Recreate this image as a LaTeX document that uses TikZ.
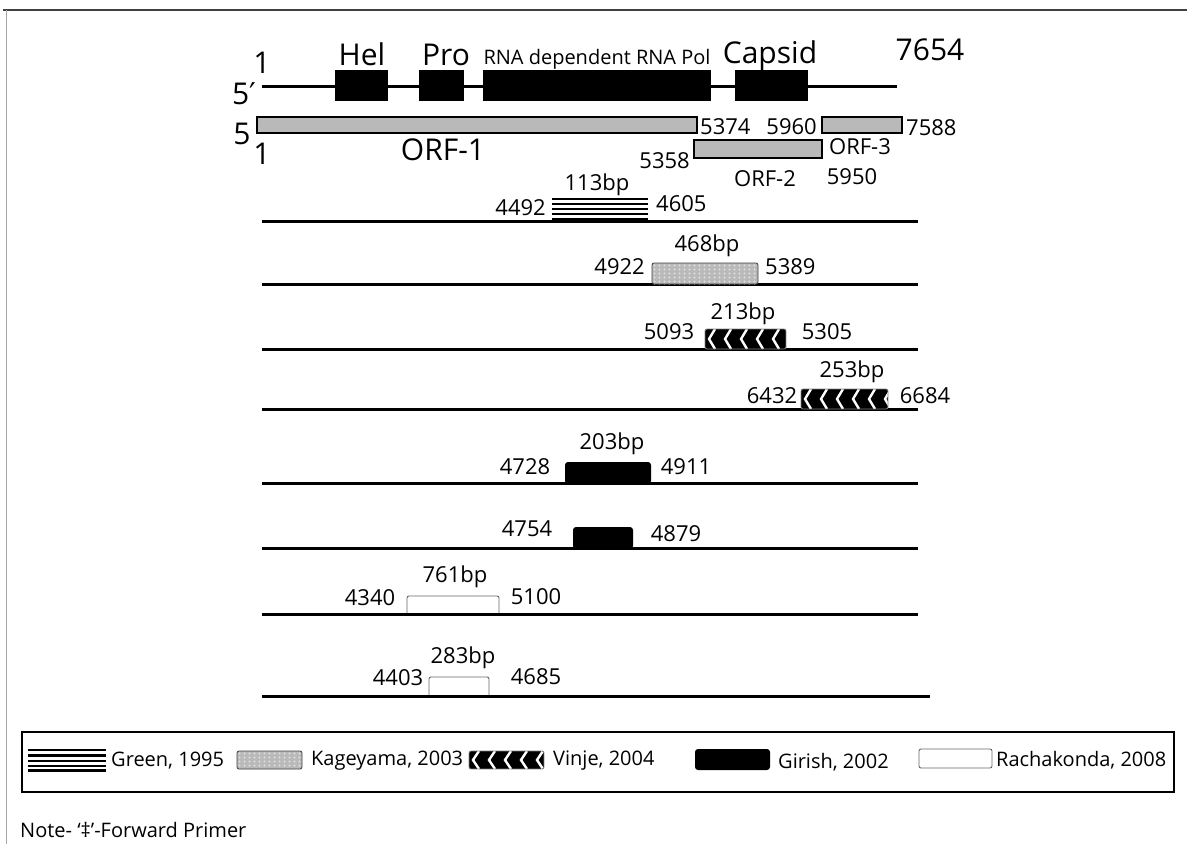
\documentclass[tikz,border=0pt]{standalone}
\usepackage{fontspec}
\setmainfont{Open Sans}
\newfontfamily\dejavu{DejaVu Sans}
\newcommand\kagebox[4]{%
  \fill[gray!55, rounded corners=2pt] (#1,#2) rectangle (#3,#4);
  \begin{scope}
    \clip (#1,#2) rectangle (#3,#4);
    \foreach \i in {0,...,22} \foreach \j in {0,...,5}
      \fill[white!75!gray] ({#1+2.5+\i*5},{#2+2.5+\j*4}) circle (1.2pt);
  \end{scope}
  \draw[black!75, line width=0.8pt, rounded corners=2pt] (#1,#2) rectangle (#3,#4);
}
\newcommand\vinjebox[4]{%
  \begin{scope}
    \clip[rounded corners=2pt] (#1,#2) rectangle (#3,#4);
    \fill[black] (#1,#2) rectangle (#3,#4);
    \foreach \k in {0,...,6}
      \draw[white, line width=2.4pt] ({#1+10+\k*16},#2) -- ({#1+4+\k*16},{(#2+#4)/2}) -- ({#1+10+\k*16},#4);
  \end{scope}
  \draw[gray, line width=0.8pt, rounded corners=2pt] (#1,#2) rectangle (#3,#4);
}
\begin{document}
\begin{tikzpicture}[x=1pt,y=-1pt,
  lbl/.style={inner sep=0pt, font=\fontsize{22}{24}\selectfont},
  biglbl/.style={inner sep=0pt, font=\fontsize{30}{32}\selectfont},
  leg/.style={inner sep=0pt, anchor=west, font=\fontsize{20}{22}\selectfont},
  track/.style={line width=3pt},
  orf/.style={draw=black, line width=1.2pt, fill=gray!55},
  girish/.style={fill=black, rounded corners=3pt},
  racha/.style={draw=gray!80!black, line width=0.9pt, fill=white, rounded corners=2pt},
]
\useasboundingbox (0,0) rectangle (1187,844);
% frame
\draw[black!75, line width=1.6pt] (3,10) -- (1187,10);
\draw[gray!70, line width=1pt] (6,10) -- (6,844);

% genome
\draw[track] (262,86) -- (897,86);
\fill (335,70) rectangle (388,101);
\fill (419,70) rectangle (464,101);
\fill (483,70) rectangle (711,101);
\fill (735,70) rectangle (808,101);
\node[biglbl, anchor=base] (one) at (262,73) {1};
\node[biglbl] (fivep) at (244,94) {5{\dejavu ′}};
\node[biglbl, anchor=base] (hel) at (362,65) {Hel};
\node[biglbl, anchor=base] (pro) at (446,65) {Pro};
\node[inner sep=0pt, anchor=base, font=\fontsize{20}{22}\selectfont] (rna) at (597,64) {RNA dependent RNA Pol};
\node[biglbl, anchor=base] (capsid) at (770,63) {Capsid};
\node[biglbl, anchor=base] (end) at (930,60) {7654};

% ORFs
\draw[orf] (257,117) rectangle (697,133);
\draw[orf] (822,117) rectangle (902,133);
\draw[orf] (694,140) rectangle (822,158);
\node[lbl, anchor=west] (n5374) at (700,127) {5374};
\node[lbl, anchor=east] (n5960) at (817,127) {5960};
\node[lbl, anchor=west] (n7588) at (906,128) {7588};
\node[biglbl] (five) at (242,134) {5};
\node[biglbl] (oneb) at (262,154) {1};
\node[biglbl] (orf1) at (443,150) {ORF-1};
\node[lbl, anchor=east] (n5358) at (690,161) {5358};
\node[lbl] (orf3) at (860,147) {ORF-3};
\node[lbl] (orf2) at (765,179) {ORF-2};
\node[lbl] (n5950) at (852,177) {5950};

% 1: Green
\draw[track] (262,221) -- (918,221);
\foreach \yy in {199,204,209,214,219} \draw[line width=2.2pt] (552,\yy) -- (648,\yy);
\node[lbl] (b113) at (597,185) {113bp};
\node[lbl, anchor=east] (n4492) at (546,208) {4492};
\node[lbl, anchor=west] (n4605) at (656,204) {4605};

% 2: Kageyama
\draw[track] (262,284) -- (918,284);
\kagebox{652}{263}{758}{284}
\node[lbl] (b468) at (707,246) {468bp};
\node[lbl, anchor=east] (n4922) at (645,267) {4922};
\node[lbl, anchor=west] (n5389) at (765,267) {5389};

% 3: Vinje
\draw[track] (262,349) -- (918,349);
\vinjebox{705}{329}{786}{349}
\node[lbl] (b213) at (743,314) {213bp};
\node[lbl] (n5093) at (669,332) {5093};
\node[lbl] (n5305) at (827,332) {5305};

% 4: Vinje
\draw[track] (262,409) -- (918,409);
\vinjebox{801}{389}{888}{409}
\node[lbl] (b253) at (852,372) {253bp};
\node[lbl] (n6432) at (772,396) {6432};
\node[lbl] (n6684) at (925,396) {6684};

% 5: Girish
\draw[track] (262,483) -- (918,483);
\fill[girish] (565,462) rectangle (651,484);
\node[lbl] (b203) at (612,444) {203bp};
\node[lbl] (n4728) at (525,467) {4728};
\node[lbl] (n4911) at (686,467) {4911};

% 6: Girish
\draw[track] (262,548) -- (918,548);
\fill[girish] (573,527) rectangle (633,549);
\node[lbl] (n4754) at (527,529) {4754};
\node[lbl] (n4879) at (676,534) {4879};

% 7: Rachakonda
\draw[racha] (407,614) -- (407,596) -- (499,596) -- (499,614);
\draw[track] (262,614) -- (918,614);
\node[lbl] (b761) at (455,577) {761bp};
\node[lbl] (n4340) at (370,598) {4340};
\node[lbl] (n5100) at (536,597) {5100};

% 8: Rachakonda
\draw[racha] (429,696) -- (429,677) -- (489,677) -- (489,696);
\draw[track] (262,696) -- (930,696);
\node[lbl] (b283) at (463,658) {283bp};
\node[lbl] (n4403) at (398,678) {4403};
\node[lbl] (n4685) at (536,677) {4685};

% legend
\draw[line width=1.3pt] (22,732) rectangle (1174,792);
\foreach \yy in {750,755.5,761,766,770.5} \draw[line width=2.4pt] (28,\yy) -- (106,\yy);
\node[leg] (lgreen) at (111,761) {Green, 1995};
\kagebox{237}{751}{302}{769}
\node[leg] (lkage) at (311,761) {Kageyama, 2003};
\vinjebox{469}{751}{544}{769}
\node[leg] (lvinje) at (553,761) {Vinje, 2004};
\fill[girish] (695,749) rectangle (770,770);
\node[leg] (lgirish) at (778,762) {Girish, 2002};
\draw[racha] (919,749) rectangle (992,768);
\node[leg] (lracha) at (996,760) {Rachakonda, 2008};

\node[inner sep=0pt, anchor=west, font=\fontsize{20}{22}\selectfont] (note) at (20,830) {Note- ‘‡’-Forward Primer};
\end{tikzpicture}
\end{document}
